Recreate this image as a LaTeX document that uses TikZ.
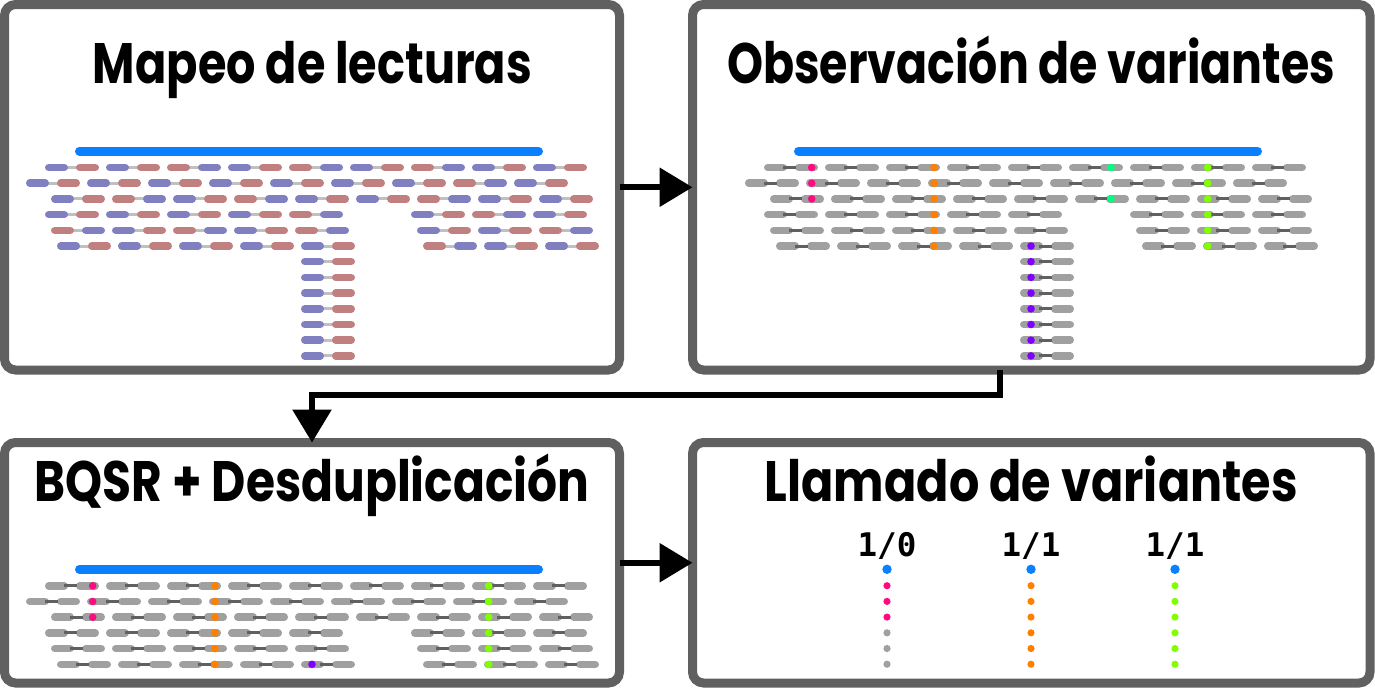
\documentclass[tikz,border=0pt]{standalone}
\usepackage{fontspec}
\usepackage{graphicx}
\usetikzlibrary{arrows.meta}
\newfontfamily\titlefont{Poppins}
\newfontfamily\labfont{DejaVu Sans Mono}
\definecolor{frame}{HTML}{606060}
\definecolor{refbar}{HTML}{0A80FF}
\definecolor{rdblue}{HTML}{8080C0}
\definecolor{rdred}{HTML}{C08080}
\definecolor{rdgray}{HTML}{A0A0A0}
\definecolor{cnlight}{HTML}{C0C0C0}
\definecolor{cndark}{HTML}{606060}
\definecolor{vmag}{HTML}{FF0A80}
\definecolor{vora}{HTML}{FF8000}
\definecolor{vpur}{HTML}{8000FF}
\definecolor{vtea}{HTML}{00FF80}
\definecolor{vgre}{HTML}{80FF00}
\colorlet{rdB}{rdblue}
\colorlet{rdR}{rdred}
\colorlet{rdC}{cnlight}
\newif\ifctop
\newcommand\ttl[2]{\resizebox{#1pt}{\height}{\titlefont\bfseries\fontsize{57}{62}\selectfont #2}}
% one row of read pairs: #1 = y, #2 = x of pair 0, #3 = list index/colour1/colour2
\newcommand\readrow[3]{%
  \foreach \pk/\pa/\pb in {#3}{%
    \pgfmathsetmacro\px{#2+61*\pk}%
    \ifctop\else\draw[rdC, line width=3pt] ({\px+19},{#1}) -- ({\px+35},{#1});\fi
    \draw[rd\pa, seg] ({\px+3.75},{#1}) -- ({\px+19.25},{#1});
    \draw[rd\pb, seg] ({\px+34.75},{#1}) -- ({\px+50.25},{#1});
    \ifctop\draw[rdC, line width=3pt] ({\px+19},{#1}) -- ({\px+31.5},{#1});\fi
  }%
}
\newcommand\toprows{%
  \draw[refbar, line width=9pt, line cap=round] (79.5,151) -- (538.5,151);
  \readrow{167.5}{45}{0/B/R,1/B/R,2/R/B,3/B/R,4/R/B,5/B/R,6/R/B,7/B/R,8/B/R}
  \readrow{183.2}{26}{0/B/R,1/B/R,2/B/R,3/B/R,4/B/R,5/B/R,6/B/R,7/R/B,8/B/R}
  \readrow{198.9}{51}{0/B/R,1/R/B,2/B/R,3/R/B,4/B/R,5/B/R,6/R/B,7/B/R,8/B/R}
  \readrow{214.6}{45}{0/B/R,1/B/R,2/B/R,3/B/R,4/R/B,6/B/R,7/R/B,8/B/R}
  \readrow{230.3}{51}{0/R/B,1/B/R,2/R/B,3/B/R,4/R/B,6/B/R,7/B/R,8/R/B}
  \readrow{246}{57}{0/B/R,1/B/R,2/B/R,3/B/R,4/B/R,6/R/B,7/B/R,8/B/R}
}
\newcommand\stemrows{%
  \foreach \sk in {1,...,7}{\readrow{246+15.7*\sk}{301}{0/B/R}}
}
\newcommand\vardot[3]{% colour, x, list of rows
  \foreach \vr in {#3}{\fill[#1] (#2,{167.5+15.7*(\vr-1)}) circle (3.8pt);}
}
\tikzset{
  panel/.style={draw=frame, line width=9pt, fill=white, rounded corners=11pt,
    inner sep=0pt, outer sep=0pt},
  seg/.style={line width=7.5pt, line cap=round},
  arr/.style={line width=6pt, -{Triangle[length=33pt,width=38pt]}},
  gt/.style={anchor=base, font=\labfont\bfseries\fontsize{32.5}{34}\selectfont, inner sep=0pt},
  tt/.style={anchor=base, inner sep=0pt},
}
\begin{document}
\begin{tikzpicture}[x=1pt,y=-1pt]
\fill[white] (0,0) rectangle (1375,688);
\useasboundingbox (0,0) rectangle (1375,688);
% panels
\node[panel, minimum width=615pt, minimum height=365.5pt] (p1) at (312,187.25) {};
\node[panel, minimum width=677.5pt, minimum height=365.5pt] (p2) at (1031.25,187.25) {};
\node[panel, minimum width=615pt, minimum height=240.5pt] (p3) at (312,562.75) {};
\node[panel, minimum width=677.5pt, minimum height=240.5pt] (p4) at (1031.25,562.75) {};
% titles
\node[tt] (t1) at (312.5,83) {\ttl{439}{Mapeo de lecturas}};
\node[tt] (t2) at (1031.25,83) {\ttl{608}{Observación de variantes}};
\node[tt] (t3) at (312,501) {\ttl{555}{BQSR + Desduplicación}};
\node[tt] (t4) at (1031.25,501) {\ttl{533}{Llamado de variantes}};
% panel 1: mapped reads
\begin{scope}
  \toprows
  \stemrows
\end{scope}
% panel 2: variants observed
\begin{scope}[shift={(719,0)}]
  \colorlet{rdB}{rdgray}\colorlet{rdR}{rdgray}\colorlet{rdC}{cndark}\ctoptrue
  \toprows
  \stemrows
  \vardot{vmag}{92.7}{1,2,3}
  \vardot{vora}{215}{1,...,6}
  \vardot{vpur}{312}{6,...,13}
  \vardot{vtea}{392}{1,3}
  \vardot{vgre}{488.7}{1,...,6}
\end{scope}
% panel 3: BQSR + dedup
\begin{scope}[shift={(0,418.3)}]
  \colorlet{rdB}{rdgray}\colorlet{rdR}{rdgray}\colorlet{rdC}{cndark}\ctoptrue
  \toprows
  \vardot{vmag}{92.7}{1,2,3}
  \vardot{vora}{215}{1,...,6}
  \vardot{vpur}{312}{6}
  \vardot{vgre}{488.7}{1,...,6}
\end{scope}
% panel 4: genotype calls
\node[gt] (g1) at (887,556) {1/0};
\node[gt] (g2) at (1031,556) {1/1};
\node[gt] (g3) at (1175,556) {1/1};
\foreach \gx in {887,1031,1175}{\fill[refbar] (\gx,569.3) circle (4.7pt);}
\foreach \gk in {0,1,2}{\fill[vmag] (887,{585.7+15.7*\gk}) circle (3.6pt);}
\foreach \gk in {3,4,5}{\fill[rdgray] (887,{585.7+15.7*\gk}) circle (3.6pt);}
\foreach \gk in {0,...,5}{\fill[vora] (1031,{585.7+15.7*\gk}) circle (3.6pt);}
\foreach \gk in {0,...,5}{\fill[vgre] (1175,{585.7+15.7*\gk}) circle (3.6pt);}
% connectors
\coordinate (dn) at (1000,395);
\draw[arr] (p1) -- (p2);
\draw[arr] (p3) -- (p4);
\draw[arr] (p2.south -| dn) -- (dn) -| (p3.north);
\end{tikzpicture}
\end{document}
